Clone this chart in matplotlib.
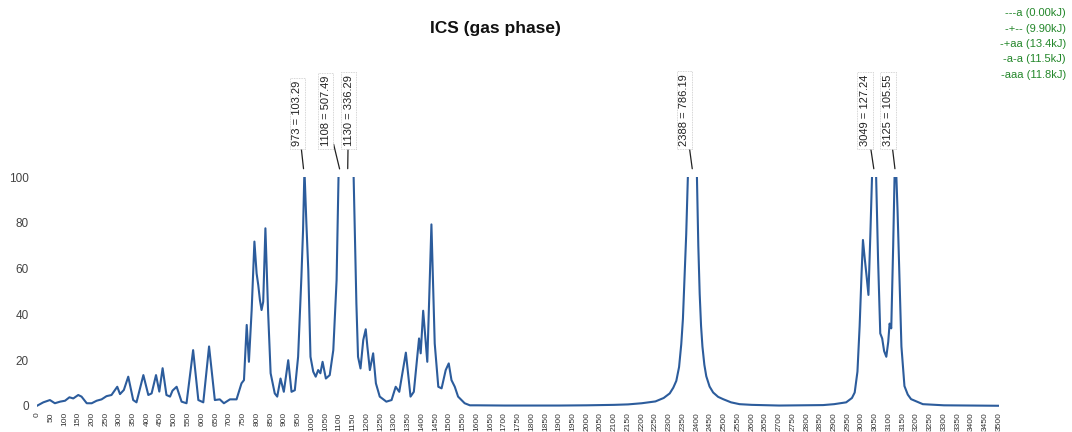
import numpy as np
import matplotlib
matplotlib.use("Agg")
import matplotlib.pyplot as plt

plt.rcParams['font.family'] = ['Liberation Sans', 'DejaVu Sans']

# spectrum (wavenumber, intensity); peaks above 100 run off the top
wavenumber = [0, 23, 47, 65, 84, 102, 118, 132, 150, 162, 181, 199, 217, 235, 253, 271,
              292, 302, 316, 332, 350, 362, 387, 405, 417, 433, 445, 457, 471, 484, 493,
              508, 526, 544, 568, 587, 605, 626, 647, 665, 680, 702, 726, 744, 753, 763,
              771, 781, 791, 799, 805, 811, 817, 823, 831, 841, 850, 865, 874, 886, 898,
              914, 926, 938, 950, 962, 968, 973, 980, 987, 995, 1005, 1014, 1023, 1031,
              1039, 1051, 1065, 1078, 1090, 1097, 1104, 1108, 1119, 1130, 1142, 1152,
              1162, 1168, 1177, 1187, 1196, 1202, 1211, 1223, 1233, 1247, 1271, 1290,
              1305, 1318, 1342, 1359, 1371, 1390, 1396, 1405, 1420, 1435, 1447, 1460,
              1472, 1487, 1498, 1508, 1520, 1532, 1556, 1575, 1600, 1700, 1800, 1900,
              2000, 2100, 2150, 2200, 2250, 2280, 2302, 2315, 2326, 2336, 2344, 2350,
              2356, 2362, 2368, 2388, 2401, 2406, 2411, 2416, 2421, 2428, 2435, 2447,
              2460, 2478, 2496, 2525, 2556, 2600, 2700, 2800, 2860, 2900, 2944, 2965,
              2975, 2985, 2993, 3000, 3005, 3011, 3018, 3025, 3032, 3038, 3049, 3053,
              3060, 3068, 3075, 3082, 3090, 3097, 3102, 3108, 3115, 3120, 3125, 3131,
              3136, 3145, 3156, 3168, 3180, 3223, 3300, 3400, 3500]
intensity = [0.1, 1.6, 2.6, 1.2, 1.9, 2.3, 3.8, 3.3, 4.8, 4.1, 1.2, 1.2, 2.3, 2.9, 4.3, 4.8,
             8.4, 5.2, 7.0, 12.8, 2.6, 1.6, 13.5, 4.8, 5.5, 13.5, 6.3, 16.5, 4.8, 4.1, 6.7,
             8.4, 1.9, 1.2, 24.4, 2.6, 1.6, 26.0, 2.6, 2.9, 1.2, 2.9, 2.9, 9.9, 11.3, 35.4,
             19.3, 41.9, 71.8, 57.9, 52.8, 46.3, 41.9, 45.5, 77.6, 40.5, 14.3, 5.5, 4.1,
             12.0, 6.2, 20.0, 6.2, 6.9, 21.5, 56.5, 76.9, 103.29, 80.0, 59.4, 21.5, 15.0,
             12.8, 15.7, 14.3, 19.3, 12.0, 13.5, 24.4, 55.0, 100.0, 250.0, 507.49, 320.0,
             336.29, 200.0, 100.0, 44.8, 21.5, 16.4, 28.8, 33.5, 25.9, 15.7, 23.0, 9.9,
             4.1, 1.9, 2.6, 8.4, 6.2, 23.3, 4.1, 6.2, 29.5, 23.0, 41.6, 19.3, 79.3, 27.3,
             8.4, 7.7, 15.7, 18.6, 11.3, 8.4, 4.1, 1.2, 0.3, 0.3, 0.2, 0.2, 0.2, 0.3, 0.5,
             0.7, 1.2, 2.0, 3.5, 5.5, 8.0, 11.0, 17.0, 27.0, 38.0, 56.0, 75.0, 100.0,
             786.19, 100.0, 70.0, 49.0, 35.0, 26.0, 18.0, 13.0, 8.5, 5.9, 4.0, 3.0, 1.6,
             0.8, 0.5, 0.2, 0.3, 0.4, 0.8, 1.6, 3.5, 5.9, 15.0, 35.0, 58.0, 72.5, 65.0,
             57.0, 48.5, 75.0, 100.0, 127.24, 100.0, 64.0, 31.7, 29.5, 24.0, 21.5, 28.0,
             36.0, 33.9, 70.0, 100.0, 105.55, 85.0, 64.0, 26.0, 8.7, 5.0, 3.0, 0.8, 0.3,
             0.2, 0.1]

peak_wn = [973, 1108, 1130, 2388, 3049, 3125]
peak_val = [103.29, 507.49, 336.29, 786.19, 127.24, 105.55]
label_dx = [-7, -16, 1, -9, -10, -8]  # box offset from peak, pixels

conformers = ['---a (0.00kJ)', '-+-- (9.90kJ)', '-+aa (13.4kJ)', '-a-a (11.5kJ)',
              '-aaa (11.8kJ)']

W, H = 1072, 432
fig = plt.figure(figsize=(W / 100, H / 100), dpi=100)
y0, y1 = -1.5, 100
px_per = (406 - 177) / 100.0
bottom_px = 406 + (0 - y0) * px_per
ax = fig.add_axes([37 / W, (H - bottom_px) / H, (999 - 37) / W, (bottom_px - 177) / H])

ax.plot(wavenumber, intensity, color='#2c5c9c', lw=1.5)
ax.set_xlim(0, 3500)
ax.set_ylim(y0, y1)
for s in ax.spines.values():
    s.set_visible(False)

ax.set_xticks(np.arange(0, 3501, 50))
ax.tick_params(axis='x', length=0, pad=2, labelsize=6, labelrotation=90, labelcolor='#333333')
ax.set_yticks(np.arange(0, 101, 20))
ax.tick_params(axis='y', length=0, pad=6, labelsize=8.5, labelcolor='#444444')

for wn, val, dx in zip(peak_wn, peak_val, label_dx):
    ax.annotate(f'{wn} = {val:.2f}', xy=(wn, 100), xycoords='data',
                xytext=(dx, 31), textcoords='offset pixels',
                rotation=90, ha='center', va='bottom', fontsize=8, color='#222222',
                annotation_clip=False,
                bbox=dict(boxstyle='square,pad=0.25', fc='white', ec='#c8c8c8', lw=0.6,
                          ls=(0, (1, 1))),
                arrowprops=dict(arrowstyle='-', color='#222222', lw=0.9,
                                shrinkA=0, shrinkB=6))

fig.text(495 / W, 1 - 28 / H, 'ICS (gas phase)', ha='center', va='center',
         fontsize=12.5, fontweight='bold', color='#111111')

for i, name in enumerate(conformers):
    fig.text(1066 / W, 1 - (13 + 15.5 * i) / H, name, ha='right', va='center',
             fontsize=8, color='#23872a')

fig.savefig('out.png', dpi=100)
